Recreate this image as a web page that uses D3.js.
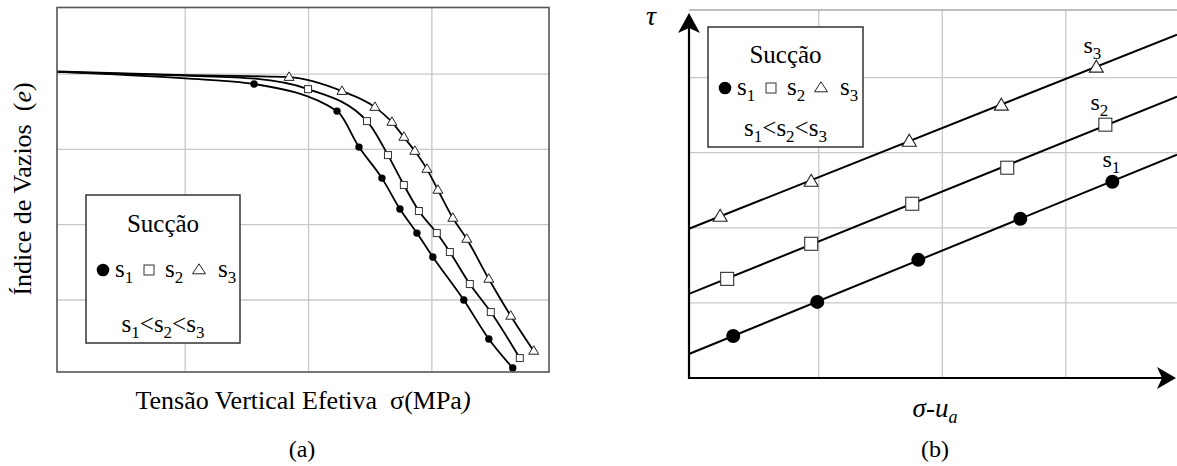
<!DOCTYPE html>
<html>
<head>
<meta charset="utf-8">
<script src="https://cdn.jsdelivr.net/npm/d3@7"></script>
<style>
  html, body { margin: 0; padding: 0; background: #fff; }
  svg { display: block; }
</style>
</head>
<body>
<svg id="fig" width="1177" height="466" font-family="'Liberation Serif', 'Times New Roman', serif"></svg>
<script>
// ---------- (a) void ratio vs. effective vertical stress, one curve per suction ----------
const sigmaS1 = [1.558, 2.231, 2.409, 2.595, 2.741, 2.879, 3.008, 3.259, 3.462, 3.656];
const eS1     = [3.869, 3.509, 3.031, 2.619, 2.208, 1.889, 1.571, 1.000, 0.482, 0.097];
const sigmaS2 = [1.996, 2.474, 2.644, 2.773, 2.895, 3.040, 3.146, 3.308, 3.478, 3.713];
const eS2     = [3.801, 3.376, 2.925, 2.527, 2.182, 1.889, 1.637, 1.212, 0.840, 0.229];
const sigmaS3 = [1.842, 2.271, 2.538, 2.676, 2.773, 2.862, 2.960, 3.049, 3.170, 3.283, 3.462, 3.640, 3.826];
const eS3     = [3.960, 3.774, 3.562, 3.363, 3.164, 2.978, 2.739, 2.461, 2.089, 1.810, 1.279, 0.788, 0.323];
// unmarked points on the flat (pre-yield) branch of each curve
const flatS1 = [[-0.04, 4.03], [1.0, 3.943]];
const flatS2 = [[-0.04, 4.03], [1.0, 3.980], [1.567, 3.940]];
const flatS3 = [[-0.04, 4.035], [1.0, 3.987], [1.526, 3.973]];
const gridAx = [1, 2, 3];
const gridAy = [1, 2, 3, 4];

// ---------- (b) shear strength envelopes, one per suction ----------
const netS1 = [0.308, 0.988, 1.806, 2.632, 3.377];
const tauS1 = [0.560, 1.013, 1.573, 2.120, 2.613];
const netS2 = [0.259, 0.939, 1.757, 2.526, 3.320];
const tauS2 = [1.320, 1.787, 2.320, 2.800, 3.373];
const netS3 = [0.202, 0.939, 1.733, 2.478, 3.247];
const tauS3 = [2.147, 2.613, 3.147, 3.627, 4.133];
const envS1 = [[-0.05, 0.320], [3.9, 2.973]];
const envS2 = [[-0.05, 1.120], [3.9, 3.747]];
const envS3 = [[-0.05, 1.987], [3.9, 4.573]];
const gridBx = [1, 2, 3];
const gridBy = [1, 2, 3, 4];

const seriesNames = ["s1", "s2", "s3"];
const markerTypes = ["circle", "square", "triangle"];

const svg = d3.select("#fig");
const GRID = "#c8c8c8";

// ---- helpers ----
function richText(g, x, y, parts, o) {
  const t = g.append("text").attr("x", x).attr("y", y)
    .attr("font-size", o.size).attr("text-anchor", o.anchor || "start")
    .attr("fill", "#000").style("white-space", "pre");
  let down = false;
  parts.forEach(p => {
    const ts = t.append("tspan").text(p.t);
    if (p.sub) {
      ts.attr("font-size", o.subSize);
      if (!down) { ts.attr("dy", o.shift); down = true; }
    } else if (down) { ts.attr("dy", -o.shift); down = false; }
    if (p.it) ts.attr("font-style", "italic");
  });
  return t;
}
function sLabel(name) { return [{ t: name[0] }, { t: name.slice(1), sub: true }]; }

function marker(g, type, cx, cy, s) {
  if (type === "circle") {
    g.append("circle").attr("cx", cx).attr("cy", cy).attr("r", s.r).attr("fill", "#000");
  } else if (type === "square") {
    g.append("rect").attr("x", cx - s.sq / 2).attr("y", cy - s.sq / 2)
      .attr("width", s.sq).attr("height", s.sq)
      .attr("fill", "#fff").attr("stroke", "#333").attr("stroke-width", s.sw);
  } else {
    const w = s.tw, h = s.th;
    g.append("path")
      .attr("d", `M${cx},${cy - h * 0.62}L${cx + w / 2},${cy + h * 0.38}L${cx - w / 2},${cy + h * 0.38}Z`)
      .attr("fill", "#fff").attr("stroke", "#222").attr("stroke-width", s.sw)
      .attr("stroke-linejoin", "miter");
  }
}

function legend(g, x, y, w, h, rows, s) {
  g.append("rect").attr("x", x).attr("y", y).attr("width", w).attr("height", h)
    .attr("fill", "#fff").attr("stroke", "#333").attr("stroke-width", 1.5);
  g.append("text").attr("x", x + w / 2).attr("y", y + rows.title)
    .attr("text-anchor", "middle").attr("font-size", 25).text("Sucção");
  const by = y + rows.items;
  const slots = [[17, 29], [63, 79], [113, 132]];
  seriesNames.forEach((n, i) => {
    marker(g, markerTypes[i], x + slots[i][0], by - 7, s);
    richText(g, x + slots[i][1], by, sLabel(n), { size: 25, subSize: 17, shift: 6 });
  });
  const order = [];
  seriesNames.forEach((n, i) => {
    order.push({ t: n[0] }, { t: n.slice(1), sub: true });
    if (i < seriesNames.length - 1) order.push({ t: "<" });
  });
  richText(g, x + w / 2, y + rows.order, order, { size: 25, subSize: 17, shift: 6, anchor: "middle" });
}

// =================== panel (a) ===================
const gA = svg.append("g");
const xA = d3.scaleLinear().domain([-0.04, 3.95]).range([57, 549]);
const yA = d3.scaleLinear().domain([0.044, 4.885]).range([372, 7.5]);

gA.selectAll("line.gx").data(gridAx).join("line")
  .attr("x1", d => xA(d)).attr("x2", d => xA(d))
  .attr("y1", yA.range()[0]).attr("y2", yA.range()[1])
  .attr("stroke", GRID).attr("stroke-width", 1.3);
gA.selectAll("line.gy").data(gridAy).join("line")
  .attr("y1", d => yA(d)).attr("y2", d => yA(d))
  .attr("x1", xA.range()[0]).attr("x2", xA.range()[1])
  .attr("stroke", GRID).attr("stroke-width", 1.3);

const seriesA = [
  { x: sigmaS1, y: eS1, flat: flatS1 },
  { x: sigmaS2, y: eS2, flat: flatS2 },
  { x: sigmaS3, y: eS3, flat: flatS3 }
];
const lineA = d3.line().x(d => xA(d[0])).y(d => yA(d[1])).curve(d3.curveMonotoneX);
seriesA.forEach(s => {
  const pts = s.flat.concat(s.x.map((v, i) => [v, s.y[i]]));
  gA.append("path").attr("d", lineA(pts)).attr("fill", "none")
    .attr("stroke", "#000").attr("stroke-width", 1.8);
});
const smallMk = { r: 3.7, sq: 7, tw: 10, th: 8.5, sw: 1 };
seriesA.forEach((s, k) => {
  s.x.forEach((v, i) => marker(gA, markerTypes[k], xA(v), yA(s.y[i]), smallMk));
});

gA.append("rect")
  .attr("x", xA.range()[0]).attr("y", yA.range()[1])
  .attr("width", xA.range()[1] - xA.range()[0]).attr("height", yA.range()[0] - yA.range()[1])
  .attr("fill", "none").attr("stroke", "#555").attr("stroke-width", 1.6);

legend(gA, 86, 195, 154, 148, { title: 37, items: 82, order: 137 },
  { r: 6.3, sq: 10, tw: 13, th: 10, sw: 1 });

// axis titles (a)
richText(gA, 303, 409, [
  { t: "Tensão Vertical Efetiva  σ(MPa" }, { t: ")", it: true }
], { size: 26, subSize: 26, shift: 0, anchor: "middle" });
const yTitle = gA.append("g").attr("transform", "translate(31,189) rotate(-90)");
richText(yTitle, 0, 0, [
  { t: "Índice de Vazios  (" }, { t: "e", it: true }, { t: ")" }
], { size: 26, subSize: 26, shift: 0, anchor: "middle" });
gA.append("text").attr("x", 302).attr("y", 457).attr("text-anchor", "middle")
  .attr("font-size", 24).text("(a)");

// =================== panel (b) ===================
const gB = svg.append("g");
const xB = d3.scaleLinear().domain([-0.05, 3.9]).range([689, 1177]);
const yB = d3.scaleLinear().domain([0, 4.9]).range([378, 10]);

gB.selectAll("line.gx").data(gridBx).join("line")
  .attr("x1", d => xB(d)).attr("x2", d => xB(d))
  .attr("y1", yB(0)).attr("y2", yB(4.9))
  .attr("stroke", GRID).attr("stroke-width", 1.3);
gB.selectAll("line.gy").data(gridBy).join("line")
  .attr("y1", d => yB(d)).attr("y2", d => yB(d))
  .attr("x1", xB(-0.05)).attr("x2", xB(3.9))
  .attr("stroke", GRID).attr("stroke-width", 1.3);
gB.append("line")
  .attr("x1", xB(-0.05)).attr("x2", xB(3.9)).attr("y1", yB(4.9)).attr("y2", yB(4.9))
  .attr("stroke", "#aaa").attr("stroke-width", 1.5);

const seriesB = [
  { x: netS1, y: tauS1, env: envS1 },
  { x: netS2, y: tauS2, env: envS2 },
  { x: netS3, y: tauS3, env: envS3 }
];
const lineB = d3.line().x(d => xB(d[0])).y(d => yB(d[1]));
seriesB.forEach(s => {
  gB.append("path").attr("d", lineB(s.env)).attr("fill", "none")
    .attr("stroke", "#000").attr("stroke-width", 2);
});
const bigMk = { r: 7, sq: 13, tw: 14, th: 12, sw: 1.1 };
seriesB.forEach((s, k) => {
  s.x.forEach((v, i) => marker(gB, markerTypes[k], xB(v), yB(s.y[i]), bigMk));
});
// series names beside the last point of each envelope
const nameDx = [-1, -6, -4];
seriesB.forEach((s, k) => {
  const n = s.x.length - 1;
  richText(gB, xB(s.x[n]) + nameDx[k], yB(s.y[n]) - 15, sLabel(seriesNames[k]),
    { size: 24, subSize: 17, shift: 6, anchor: "middle" });
});

// axes with arrowheads
const ox = xB(-0.05), oy = yB(0);
gB.append("line").attr("x1", ox).attr("x2", ox).attr("y1", oy + 1).attr("y2", 22)
  .attr("stroke", "#000").attr("stroke-width", 2.2);
gB.append("line").attr("x1", ox - 1).attr("x2", 1166).attr("y1", oy).attr("y2", oy)
  .attr("stroke", "#000").attr("stroke-width", 2.2);
gB.append("path").attr("d", `M${ox},13L${ox + 11},33L${ox},28L${ox - 11},33Z`).attr("fill", "#000");
gB.append("path").attr("d", `M1176,${oy}L1157,${oy + 11}L1162,${oy}L1157,${oy - 11}Z`).attr("fill", "#000");

gB.append("text").attr("x", 651).attr("y", 25).attr("text-anchor", "middle")
  .attr("font-size", 28).attr("font-style", "italic").text("τ");
richText(gB, 935, 417, [
  { t: "σ", it: true }, { t: "-" }, { t: "u", it: true }, { t: "a", it: true, sub: true }
], { size: 27, subSize: 18, shift: 6, anchor: "middle" });
gB.append("text").attr("x", 935).attr("y", 457).attr("text-anchor", "middle")
  .attr("font-size", 24).text("(b)");

legend(gB, 708, 27, 155, 120, { title: 36, items: 68, order: 109 },
  { r: 6.3, sq: 10, tw: 13, th: 10, sw: 1 });
</script>
</body>
</html>
